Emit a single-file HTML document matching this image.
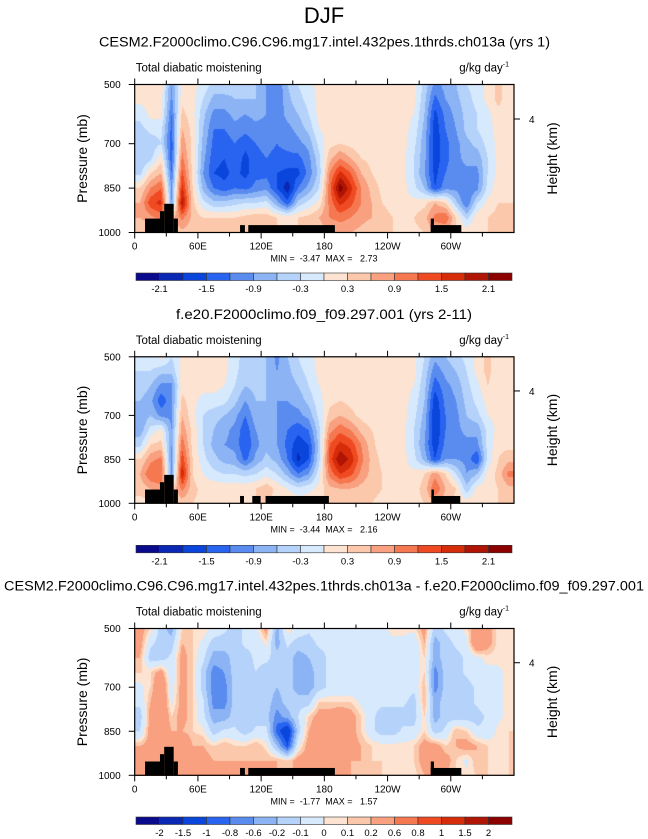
<!DOCTYPE html>
<html><head><meta charset="utf-8">
<style>
html,body{margin:0;padding:0;background:#fff;}
#wrap{position:relative;width:648px;height:839px;overflow:hidden;font-family:"Liberation Sans",sans-serif;}
canvas{position:absolute;}
svg{position:absolute;left:0;top:0;}
text{white-space:pre;}
</style></head>
<body>
<div id="wrap">
<canvas id="c0"></canvas>
<canvas id="c1"></canvas>
<canvas id="c2"></canvas>
<svg id="ov" width="648" height="839"></svg>
</div>
<script>
// ---- data ----
const lonCenters=[5,15,25,35,45,55,65,75,85,95,105,115,125,135,145,155,165,175,185,195,205,215,225,235,245,255,265,275,285,295,305,315,325,335,345,355];
const levels=[500,550,600,650,700,750,800,850,900,950,1000];
const field1=[
[0.1,0.2,0.2,-0.9,0.1,0.1,-0.1,-0.4,-0.4,-0.5,-0.6,-0.6,-0.9,-1.2,-0.6,-0.3,-0.1,0.1,0.1,0.1,0.1,0.1,0.1,0.1,0.1,0.1,0.1,-0.4,-1.0,-0.8,-0.6,-0.3,-0.2,0.1,0.4,0.1],
[0.1,0.1,0.1,-1.0,0.2,0.1,-0.3,-0.7,-0.7,-0.6,-0.6,-0.6,-0.9,-1.2,-0.7,-0.4,-0.2,0.1,0.1,0.1,0.1,0.1,0.1,0.1,0.1,0.1,0.1,-0.5,-1.3,-0.9,-0.7,-0.4,-0.2,0.1,0.4,0.1],
[-0.2,0.1,0.1,-1.2,0.4,0.1,-0.5,-1.0,-1.0,-0.8,-0.9,-0.8,-0.9,-1.1,-0.8,-0.6,-0.3,0.1,0.1,0.1,0.1,0.1,0.1,0.1,0.1,0.1,0.0,-0.6,-1.6,-1.1,-0.8,-0.5,-0.3,-0.1,0.2,0.1],
[-0.4,-0.2,-0.2,-1.3,0.6,0.2,-0.6,-1.2,-1.2,-1.0,-1.1,-1.0,-1.0,-1.1,-1.0,-0.8,-0.5,0.0,0.1,0.1,0.1,0.1,0.1,0.1,0.1,0.1,-0.1,-0.7,-1.7,-1.2,-0.9,-0.5,-0.3,-0.1,0.1,0.1],
[-0.6,-0.5,-0.3,-1.4,0.8,0.2,-0.7,-1.3,-1.4,-1.2,-1.4,-1.2,-1.1,-1.2,-1.1,-1.0,-0.8,-0.2,0.2,0.3,0.2,0.1,0.1,0.1,0.1,0.1,-0.2,-0.8,-1.7,-1.3,-1.0,-0.7,-0.5,-0.2,0.1,0.1],
[-0.6,-0.4,0.2,-1.4,1.0,0.2,-0.8,-1.4,-1.5,-1.3,-1.6,-1.3,-1.2,-1.3,-1.3,-1.3,-1.0,-0.4,0.5,0.9,0.6,0.3,0.2,0.1,0.1,0.1,-0.3,-0.8,-1.7,-1.3,-1.0,-0.8,-0.8,-0.3,0.1,0.1],
[-0.4,0.3,0.6,-1.2,1.3,0.2,-0.9,-1.5,-1.6,-1.4,-1.6,-1.3,-1.3,-1.5,-1.6,-1.6,-1.1,-0.5,0.9,1.6,1.2,0.6,0.3,0.1,0.1,0.1,-0.3,-0.9,-1.6,-1.2,-1.0,-1.0,-1.0,-0.3,0.1,0.1],
[0.3,0.9,1.2,-1.0,1.6,0.3,-0.7,-1.2,-1.4,-1.2,-1.3,-1.1,-1.0,-1.5,-2.0,-1.2,-0.8,-0.3,1.1,2.3,1.6,0.9,0.5,0.2,0.1,0.1,-0.2,-0.6,-1.5,-1.0,-1.0,-1.2,-1.0,-0.2,0.2,0.2],
[0.6,1.4,1.6,-0.9,2.0,0.4,-0.2,-0.5,-0.5,-0.4,-0.3,-0.3,-0.2,-0.8,-1.4,-0.5,-0.2,0.1,1.0,1.6,1.3,0.9,0.6,0.3,0.2,0.1,0.1,0.2,0.6,0.3,-0.5,-1.2,-0.3,0.1,0.3,0.3],
[0.6,0.8,1.0,0.5,1.0,0.5,0.3,0.3,0.3,0.3,0.4,0.5,0.5,0.3,0.2,0.3,0.4,0.6,0.9,1.0,0.9,0.7,0.6,0.4,0.3,0.3,0.3,0.5,1.0,1.2,0.3,-0.4,0.2,0.3,0.4,0.6],
[0.3,0.3,0.3,0.3,0.5,0.4,0.3,0.3,0.3,0.3,0.3,0.3,0.3,0.3,0.3,0.3,0.3,0.4,0.6,0.7,0.6,0.5,0.4,0.3,0.3,0.2,0.2,0.3,0.6,0.5,0.3,0.2,0.3,0.3,0.4,0.5]];
const field2=[
[-0.2,-0.1,0.1,-0.3,0.1,0.1,0.1,0.1,0.1,-0.2,-0.4,-0.5,-0.6,-1.0,-0.6,-0.3,-0.1,0.1,0.1,0.1,0.1,0.1,0.1,0.1,0.1,0.1,0.1,-0.3,-0.8,-0.6,-0.4,-0.2,0.1,0.4,0.1,0.1],
[-0.3,-0.3,-0.5,-0.5,0.1,0.1,0.1,0.1,0.1,-0.2,-0.5,-0.5,-0.6,-0.9,-0.7,-0.4,-0.2,0.1,0.1,0.1,0.1,0.1,0.1,0.1,0.1,0.1,0.1,-0.4,-1.1,-0.8,-0.6,-0.3,0.1,0.4,0.1,0.1],
[-0.4,-0.6,-1.0,-1.0,0.2,0.1,0.1,0.1,0.0,-0.3,-0.6,-0.5,-0.6,-0.9,-0.8,-0.6,-0.3,0.0,0.1,0.1,0.1,0.1,0.1,0.1,0.1,0.1,0.0,-0.5,-1.4,-1.0,-0.8,-0.4,-0.1,0.3,0.1,0.1],
[-0.6,-0.8,-1.4,-1.0,0.4,0.1,-0.1,-0.1,-0.2,-0.5,-0.9,-0.6,-0.6,-0.9,-0.9,-0.8,-0.5,-0.1,0.2,0.3,0.2,0.1,0.1,0.1,0.1,0.1,-0.1,-0.6,-1.7,-1.1,-0.9,-0.5,-0.2,0.1,0.1,0.1],
[-0.9,-0.6,-1.0,-1.0,0.6,0.1,-0.3,-0.5,-0.6,-0.8,-1.2,-0.7,-0.6,-0.9,-1.0,-1.0,-0.8,-0.2,0.4,0.6,0.4,0.2,0.1,0.1,0.1,0.1,-0.2,-0.7,-1.8,-1.2,-1.0,-0.6,-0.4,0.0,0.1,0.1],
[-0.8,-0.2,0.1,-0.9,0.8,0.2,-0.3,-0.6,-0.8,-1.0,-1.4,-0.9,-0.7,-0.9,-1.2,-1.4,-1.2,-0.4,0.8,1.1,0.9,0.5,0.3,0.1,0.1,0.1,-0.3,-0.8,-1.8,-1.2,-1.0,-0.8,-0.8,-0.2,0.1,0.1],
[-0.4,0.3,0.4,-0.9,1.1,0.2,-0.3,-0.7,-0.9,-1.0,-1.5,-1.0,-0.7,-0.9,-1.3,-1.7,-1.5,-0.5,1.2,1.6,1.4,0.9,0.4,0.1,0.1,0.1,-0.3,-0.9,-1.7,-1.1,-1.1,-1.0,-1.0,-0.2,0.2,0.2],
[0.3,0.8,1.0,-1.0,1.4,0.3,-0.2,-0.5,-0.7,-0.8,-1.3,-0.8,-0.5,-0.7,-1.2,-1.9,-1.5,-0.4,1.3,2.1,1.7,1.0,0.5,0.2,0.1,0.1,-0.2,-0.7,-1.5,-0.9,-0.9,-1.0,-1.5,-0.2,0.3,0.5],
[0.6,1.2,1.2,-1.0,1.8,0.3,0.0,-0.2,-0.3,-0.3,-0.4,-0.3,-0.1,-0.3,-0.7,-1.2,-0.9,-0.1,1.0,1.5,1.3,0.8,0.5,0.3,0.2,0.1,0.1,0.3,0.8,0.3,-0.3,-0.9,-0.6,0.1,0.4,1.0],
[0.4,0.6,0.8,0.3,1.0,0.4,0.2,0.2,0.2,0.2,0.2,0.3,0.5,0.2,0.0,-0.2,-0.1,0.1,0.5,0.6,0.6,0.5,0.4,0.3,0.2,0.2,0.2,0.4,1.2,0.6,0.3,-0.5,0.1,0.2,0.3,0.5],
[0.2,0.2,0.2,0.2,0.4,0.3,0.2,0.2,0.2,0.2,0.2,0.3,0.3,0.2,0.2,0.2,0.2,0.2,0.4,0.5,0.5,0.4,0.3,0.2,0.2,0.2,0.2,0.3,0.6,0.4,0.2,0.2,0.2,0.2,0.3,0.4]];
const field3=[
[0.3,0.1,-0.3,-0.5,0.1,0.1,0.1,-0.05,-0.15,-0.3,-0.15,-0.05,0.3,-0.5,0.1,-0.05,-0.15,-0.05,-0.05,-0.05,-0.15,-0.05,-0.05,-0.05,0.05,0.05,0.05,0.3,-0.3,-0.15,-0.05,0.05,0.4,0.3,0.05,0.05],
[0.3,-0.15,-0.3,-0.3,0.2,0.1,-0.05,-0.3,-0.3,-0.3,-0.15,-0.15,0.05,-0.5,-0.15,-0.3,-0.3,-0.15,-0.15,-0.15,-0.15,-0.05,-0.05,-0.05,-0.05,-0.05,-0.15,0.2,-0.5,-0.3,-0.15,-0.05,0.5,0.3,0.05,0.05],
[0.2,-0.3,-0.3,-0.15,0.3,0.1,-0.15,-0.5,-0.5,-0.3,-0.3,-0.15,-0.15,-0.3,-0.3,-0.5,-0.4,-0.3,-0.15,-0.15,-0.15,-0.05,-0.05,-0.05,-0.05,-0.05,-0.15,0.1,-0.5,-0.3,-0.3,-0.15,-0.05,0.05,0.05,0.1],
[0.1,0.1,0.3,-0.15,0.3,0.1,-0.3,-0.7,-0.6,-0.3,-0.3,-0.2,-0.3,-0.3,-0.3,-0.5,-0.5,-0.3,-0.15,-0.15,-0.15,-0.05,-0.05,-0.05,-0.05,-0.05,-0.15,0.1,-0.7,-0.3,-0.3,-0.15,-0.05,-0.05,-0.05,0.05],
[-0.05,0.1,0.5,-0.1,0.3,0.1,-0.3,-0.7,-0.7,-0.3,-0.3,-0.3,-0.3,-0.4,-0.3,-0.5,-0.5,-0.3,-0.15,-0.15,-0.15,-0.05,-0.05,-0.05,-0.05,-0.05,-0.15,0.2,-0.7,-0.3,-0.3,-0.3,-0.15,-0.05,-0.05,0.05],
[-0.15,0.2,0.5,-0.05,0.3,0.1,-0.15,-0.7,-0.7,-0.3,-0.4,-0.3,-0.3,-0.5,-0.3,-0.3,-0.3,0.1,0.1,0.1,0.1,-0.05,-0.15,-0.15,-0.15,-0.15,-0.3,0.2,-0.5,-0.3,-0.3,-0.3,-0.15,-0.05,-0.05,0.05],
[-0.3,0.3,0.5,0.1,0.3,0.1,-0.15,-0.5,-0.5,-0.3,-0.4,-0.3,-0.3,-0.7,-0.5,-0.2,0.1,0.3,0.3,0.4,0.3,0.1,-0.15,-0.3,-0.3,-0.3,-0.3,0.1,-0.5,-0.3,-0.3,-0.3,-0.3,-0.15,-0.05,0.05],
[-0.2,0.3,0.4,0.2,0.2,0.1,0.05,-0.3,-0.15,-0.15,-0.3,-0.15,-0.15,-0.9,-1.3,-0.3,0.2,0.4,0.4,0.4,0.3,0.1,-0.15,-0.3,-0.3,-0.15,-0.15,0.1,-0.3,-0.15,0.2,0.1,-0.15,-0.15,0.05,0.1],
[0.2,0.3,0.2,0.3,0.6,0.2,0.2,0.1,0.2,0.1,0.1,0.2,0.05,-0.4,-1.0,-0.05,0.3,0.3,0.3,0.3,0.3,0.2,0.1,0.05,0.05,0.05,0.1,0.3,0.3,0.1,0.2,0.3,0.2,0.1,0.05,0.1],
[0.3,0.3,0.3,0.3,0.4,0.3,0.3,0.2,0.2,0.2,0.2,0.2,0.2,0.2,0.1,0.3,0.3,0.2,0.2,0.2,0.2,0.2,0.1,0.1,0.05,0.05,0.1,0.3,0.6,0.3,0.1,-0.05,0.2,0.1,0.1,0.1],
[0.2,0.2,0.2,0.2,0.3,0.2,0.2,0.2,0.2,0.2,0.2,0.2,0.2,0.2,0.2,0.2,0.2,0.2,0.2,0.2,0.2,0.1,0.1,0.1,0.05,0.05,0.05,0.2,0.3,0.2,0.1,0.05,0.1,0.1,0.05,0.1]];
const levelsMain=[-2.1,-1.8,-1.5,-1.2,-0.9,-0.6,-0.3,0,0.3,0.6,0.9,1.2,1.5,1.8,2.1];
const levelsDiff=[-2,-1.5,-1,-0.8,-0.6,-0.4,-0.2,0,0.1,0.2,0.6,0.8,1,1.5,2];
const cbLabelsMain=["-2.1","-1.5","-0.9","-0.3","0.3","0.9","1.5","2.1"];
const cbLabelsDiff=["-2","-1.5","-1","-0.8","-0.6","-0.2","-0.1","0","0.1","0.2","0.6","0.8","1","1.5","2"];
const topo1=[[9.8,24,953],[24,28,928],[28,37,903],[37,41,953],[100,104.6,975],[107.8,190,975],[281,284,953],[281,310,975]];
const topo2=[[9.8,24,953],[24,28,928],[28,37,903],[37,41,953],[100,103.7,975],[111.6,119.5,975],[124.2,184.3,975],[281.6,284,953],[281.6,309,975]];
const colors=["#0a0a8c","#0a28b4","#0a46dc","#2864f0","#5a8cf0","#8cb4f5","#b4d2fa","#d7e9fc","#fde4d2","#fbc8ac","#f8a080","#f57850","#f04a22","#d62c0a","#b01405","#8c0000"];

// ---- layout ----
const L=134.7,R=514,W=R-L;
const panels=[
 {top:84.5,bot:232.5,field:field1,lev:levelsMain,topo:topo1,title:"CESM2.F2000climo.C96.C96.mg17.intel.432pes.1thrds.ch013a (yrs 1)",tx:99,tw:451,minmax:"MIN =  -3.47  MAX =   2.73",cb:cbLabelsMain,cbStep:2},
 {top:356.8,bot:503.3,field:field2,lev:levelsMain,topo:topo2,title:"f.e20.F2000climo.f09_f09.297.001 (yrs 2-11)",tx:176,tw:296,minmax:"MIN =  -3.44  MAX =   2.16",cb:cbLabelsMain,cbStep:2},
 {top:628.5,bot:775.3,field:field3,lev:levelsDiff,topo:topo1,title:"CESM2.F2000climo.C96.C96.mg17.intel.432pes.1thrds.ch013a - f.e20.F2000climo.f09_f09.297.001",tx:4,tw:640,minmax:"MIN =  -1.77  MAX =   1.57",cb:cbLabelsDiff,cbStep:1}
];
const xOf=lon=>L+lon/360*W;
function colorIdx(v,lev){let i=0;while(i<lev.length&&v>=lev[i])i++;return i;}
function hex(h){return [parseInt(h.substr(1,2),16),parseInt(h.substr(3,2),16),parseInt(h.substr(5,2),16)];}
const rgb=colors.map(hex);
function sample(f,lon,p){
 let fx=(lon-lonCenters[0])/10; fx=Math.max(0,Math.min(lonCenters.length-1,fx));
 let fy=(p-levels[0])/50; fy=Math.max(0,Math.min(levels.length-1,fy));
 const i0=Math.floor(fx),i1=Math.min(i0+1,lonCenters.length-1),j0=Math.floor(fy),j1=Math.min(j0+1,levels.length-1);
 const a=fx-i0,b=fy-j0;
 return (f[j0][i0]*(1-a)+f[j0][i1]*a)*(1-b)+(f[j1][i0]*(1-a)+f[j1][i1]*a)*b;
}
const NS="http://www.w3.org/2000/svg";
const ov=document.getElementById('ov');
function el(tag,attrs,txt){const e=document.createElementNS(NS,tag);for(const k in attrs)e.setAttribute(k,attrs[k]);if(txt!==undefined)e.textContent=txt;ov.appendChild(e);return e;}

el('text',{x:324,y:23,'font-size':22,'text-anchor':'middle','font-family':'Liberation Sans',},"DJF");

panels.forEach((P,k)=>{
 const H=P.bot-P.top;
 const yOf=p=>P.top+(p-500)/500*H;
 const cv=document.getElementById('c'+k);
 const x0=Math.floor(L),y0=Math.floor(P.top),cw=Math.ceil(R)-x0,ch=Math.ceil(P.bot)-y0;
 cv.width=cw;cv.height=ch;cv.style.left=x0+'px';cv.style.top=y0+'px';
 const ctx=cv.getContext('2d');const img=ctx.createImageData(cw,ch);
 for(let py=0;py<ch;py++){const p=500+((y0+py+0.5)-P.top)/H*500;
  for(let px=0;px<cw;px++){const lon=((x0+px+0.5)-L)/W*360;
   const c=rgb[colorIdx(sample(P.field,lon,p),P.lev)];const o=(py*cw+px)*4;
   img.data[o]=c[0];img.data[o+1]=c[1];img.data[o+2]=c[2];img.data[o+3]=255;}}
 ctx.putImageData(img,0,0);
 P.topo.forEach(s=>{const r=el('rect',{x:xOf(s[0]),y:yOf(s[2]),width:xOf(s[1])-xOf(s[0]),height:yOf(1000)-yOf(s[2]),fill:'#000'});
  
  });
 const fr=el('rect',{x:L,y:P.top,width:W,height:H,fill:'none',stroke:'#000','stroke-width':1.2});
 
 
 const t=el('text',{x:P.tx,y:P.top-38,'font-size':13.5,textLength:P.tw,lengthAdjust:'spacingAndGlyphs'},P.title);
 
 
 const lt=el('text',{x:L+1,y:P.top-13,'font-size':11.5},"Total diabatic moistening");
 
 
 const rt=el('text',{x:R-5,y:P.top-13,'font-size':11.5,'text-anchor':'end'});
 
 
 rt.innerHTML='g/kg day<tspan dy="-5" font-size="7">-1</tspan>';
 const xl=["0","60E","120E","180","120W","60W"];
 for(let d=0;d<360;d+=30){const x=xOf(d);const len=d%60===0?6:4;
  el('line',{x1:x,y1:P.top,x2:x,y2:P.top-len,stroke:'#000','stroke-width':1});
  el('line',{x1:x,y1:P.bot,x2:x,y2:P.bot+len,stroke:'#000','stroke-width':1});
  if(d%60===0){const tl=el('text',{x:x,y:P.bot+17,'font-size':10,'text-anchor':'middle'},xl[d/60]);
   
   }}
 [500,700,850,1000].forEach(p=>{const y=yOf(p);
  el('line',{x1:L,y1:y,x2:L-6,y2:y,stroke:'#000','stroke-width':1});
  const yl=el('text',{x:L-14,y:y+3.5,'font-size':10,'text-anchor':'end'},String(p));
  
  });
 const yc=(P.top+P.bot)/2;
 const ya=el('text',{x:0,y:0,'font-size':14,'text-anchor':'middle',transform:`translate(87,${yc}) rotate(-90)`},"Pressure (mb)");
 
 
 const hy=P.top+(119-84.5)/148*H;
 el('line',{x1:R,y1:hy,x2:R+6,y2:hy,stroke:'#000','stroke-width':1});
 const h4=el('text',{x:529,y:hy+4,'font-size':10},"4");
 
 
 const ha=el('text',{x:0,y:0,'font-size':14,'text-anchor':'middle',transform:`translate(557,${yc}) rotate(-90)`},"Height (km)");
 
 
 const mm=el('text',{x:324,y:P.bot+29,'font-size':9,'text-anchor':'middle'},P.minmax);
 
 
 const cy=P.top+188.5,cx0=136,cx1=512,bw=(cx1-cx0)/16;
 colors.forEach((c,i)=>{const r=el('rect',{x:cx0+i*bw,y:cy,width:bw,height:7.5,fill:c,stroke:'#333','stroke-width':0.6});
  
  });
 P.cb.forEach((s,i)=>{const bi=(P.cbStep===2)?(2*i+1):(i+1);
  const tl=el('text',{x:cx0+bi*bw,y:cy+19,'font-size':9.5,'text-anchor':'middle'},s);
  
  });
});
</script>
</body></html>
